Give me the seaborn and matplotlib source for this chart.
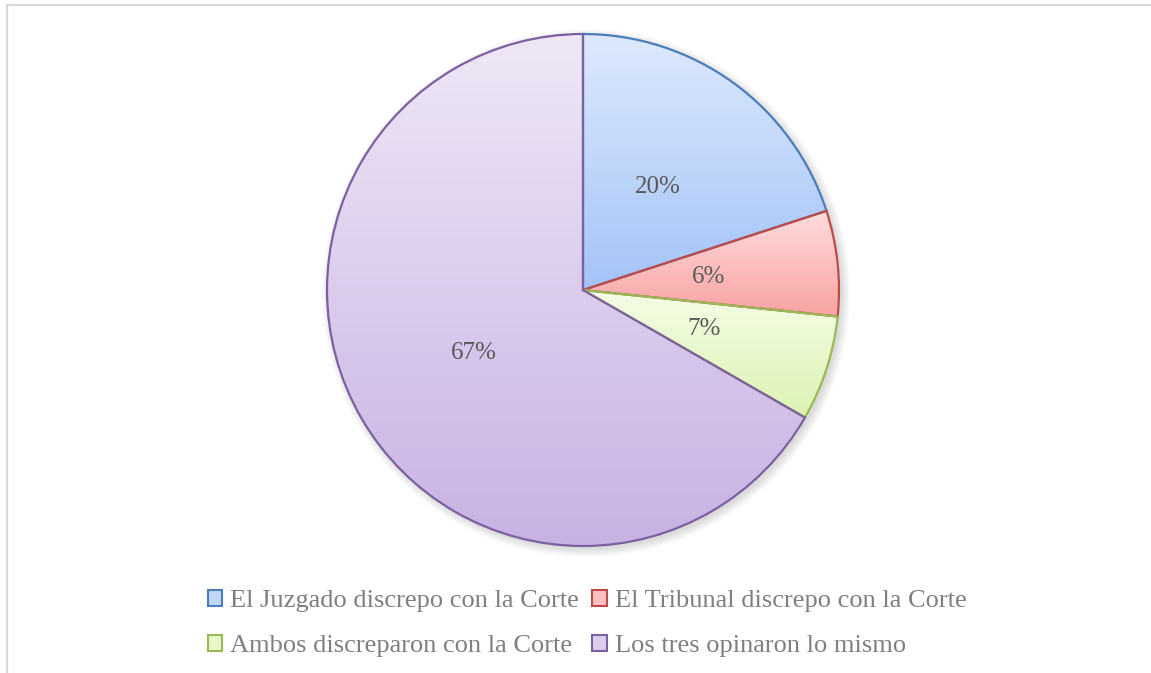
import numpy as np
import matplotlib
matplotlib.use("Agg")
import matplotlib.pyplot as plt
import seaborn as sns
from matplotlib.patches import Patch, Circle
from matplotlib.lines import Line2D
from matplotlib.colors import LinearSegmentedColormap

# ---- data ----
categories = ["El Juzgado discrepo con la Corte",
              "El Tribunal discrepo con la Corte",
              "Ambos discreparon con la Corte",
              "Los tres opinaron lo mismo"]
values = [20.0, 6.65, 6.65, 66.7]
label_texts = ["20%", "6%", "7%", "67%"]

edge_colors = ["#4a7ebb", "#be4b48", "#98b954", "#7d60a0"]
grad_top = ["#dde9fd", "#ffdcdc", "#f5fde6", "#efe7f6"]
grad_bottom = ["#a4c3f7", "#f8a3a3", "#dbf2b2", "#c8b2e4"]

sns.set_theme(style="white")
plt.rcParams["font.family"] = ["Liberation Serif", "DejaVu Serif"]

W, H = 1151, 673
fig = plt.figure(figsize=(W / 100, H / 100), dpi=100)
fig.patch.set_facecolor("white")

cx, cy, R = 583, 290, 256
ax = fig.add_axes([(cx - R) / W, (H - cy - R) / H, 2 * R / W, 2 * R / H])

palette = sns.color_palette(edge_colors)

# soft shadow
for k in range(6):
    ax.add_patch(Circle((0.012, -0.012), 1.0 + k * 0.006, facecolor="black",
                        edgecolor="none", alpha=0.022, zorder=0, clip_on=False))

wedges, texts = ax.pie(values, startangle=90, counterclock=False,
                       labels=label_texts, labeldistance=0.495,
                       wedgeprops=dict(linewidth=1.6, facecolor="none"),
                       textprops=dict(fontsize=18, color="#595959"))
for w, ec in zip(wedges, palette):
    w.set_edgecolor(ec)
    w.set_zorder(3)
    w.set_clip_on(False)
for t in texts:
    t.set_ha("center")
    t.set_va("center")
    t.set_zorder(5)

grad = np.linspace(0, 1, 256).reshape(-1, 1)
for w, top, bot in zip(wedges, grad_top, grad_bottom):
    ext = w.get_path().get_extents(w.get_patch_transform())
    cmap = LinearSegmentedColormap.from_list("g", [top, bot])
    im = ax.imshow(grad, cmap=cmap, aspect="auto", origin="upper",
                   extent=[ext.x0, ext.x1, ext.y0, ext.y1], zorder=2,
                   interpolation="bilinear")
    im.set_clip_path(w)

ax.set_xlim(-1, 1)
ax.set_ylim(-1, 1)
ax.set_axis_off()

# legend
mid_colors = []
for top, bot in zip(grad_top, grad_bottom):
    c1 = np.array(matplotlib.colors.to_rgb(top))
    c2 = np.array(matplotlib.colors.to_rgb(bot))
    mid_colors.append(tuple((c1 + c2) / 2))
handles = [Patch(facecolor=mc, edgecolor=ec, linewidth=1.5)
           for mc, ec in zip(mid_colors, palette)]
order = [0, 2, 1, 3]
leg = fig.legend([handles[i] for i in order], [categories[i] for i in order],
                 ncol=2, loc="center", bbox_to_anchor=(587 / W, 1 - 623.5 / H),
                 frameon=False, fontsize=19, handlelength=0.55,
                 handleheight=0.55, handletextpad=0.3, columnspacing=0.5,
                 labelspacing=0.86, borderpad=0)
for t in leg.get_texts():
    t.set_color("#7f7f7f")

# chart-area border (top and left visible)
fig.add_artist(Line2D([7 / W, 1], [1 - 5 / H, 1 - 5 / H], color="#d9d9d9",
                      linewidth=1.6, transform=fig.transFigure))
fig.add_artist(Line2D([7 / W, 7 / W], [0, 1 - 5 / H], color="#d9d9d9",
                      linewidth=1.6, transform=fig.transFigure))

fig.savefig("out.png", dpi=100, facecolor="white")
